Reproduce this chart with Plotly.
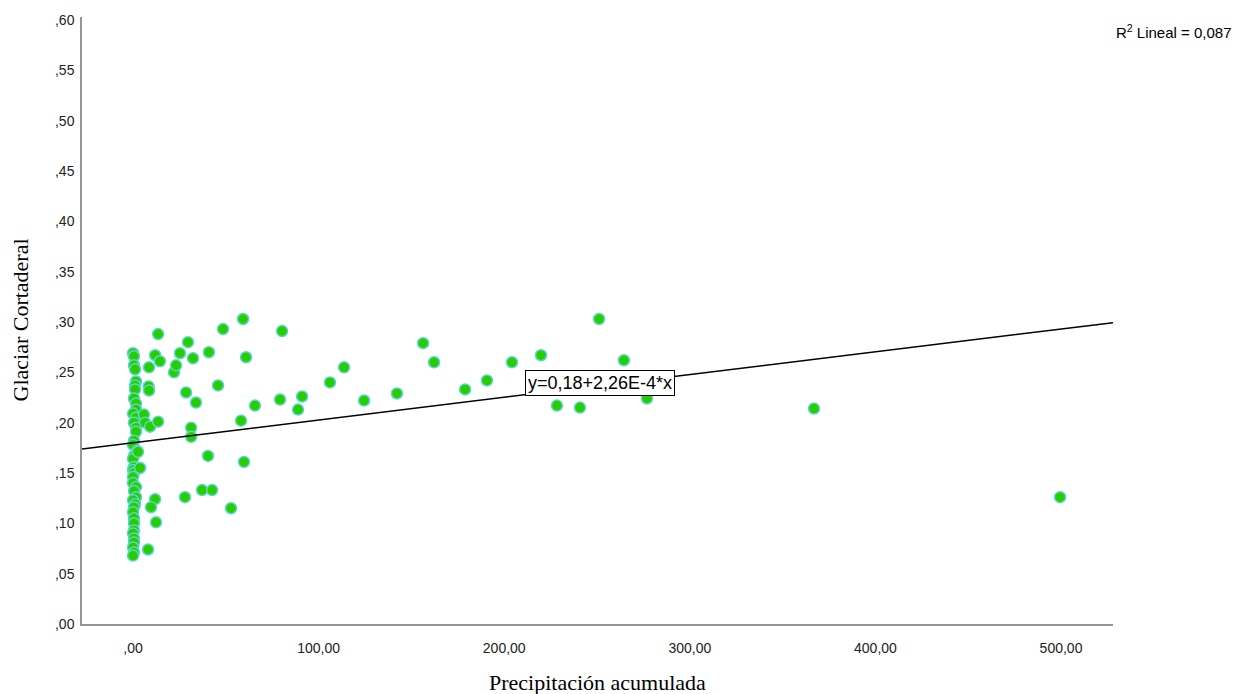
import plotly.graph_objects as go

# Precipitación acumulada (x) vs Glaciar Cortaderal (y)
precipitacion = [
    0.0, 0.5, 0.5, 1.1, 1.6, 1.1, 1.1, 0.5, 1.6, 1.6, 0.0, 1.6, 0.5, 1.6, 1.6,
    0.5, 0.0, 2.2, 0.5, 0.0, 0.5, 0.0, 0.5, 0.0, 0.0, 1.6, 0.5, 1.6, 0.0, 1.1,
    0.5, 0.0, 0.5, 0.5, 0.5, 0.0, 0.5, 0.5, 0.0, 0.5, 0.0,
    2.7, 3.8, 5.9, 6.5, 9.2, 13.5, 8.4, 8.6, 8.6, 11.9, 14.5, 13.5, 11.9, 9.7,
    12.4, 8.1, 22.1, 23.2, 25.3, 29.6, 32.3, 40.9, 48.5, 59.3, 60.9, 28.6, 45.8,
    33.9, 65.7, 58.2, 31.3, 31.3, 40.4, 59.8, 37.2, 42.6, 28.0, 52.8,
    79.2, 80.3, 91.1, 88.9, 106.1, 113.7, 124.5, 142.2, 156.3, 162.2, 178.9,
    190.7, 204.2, 219.8, 228.4, 240.8, 251.1, 264.5, 276.9, 366.9, 499.5,
]
glaciar = [
    0.269, 0.266, 0.257, 0.253, 0.241, 0.237, 0.233, 0.224, 0.219, 0.213, 0.209,
    0.205, 0.200, 0.195, 0.191, 0.182, 0.178, 0.172, 0.167, 0.164, 0.156, 0.153,
    0.150, 0.146, 0.140, 0.136, 0.132, 0.126, 0.123, 0.119, 0.116, 0.111, 0.105,
    0.100, 0.093, 0.090, 0.085, 0.081, 0.076, 0.071, 0.068,
    0.171, 0.155, 0.208, 0.200, 0.196, 0.201, 0.236, 0.232, 0.255, 0.267, 0.261,
    0.288, 0.124, 0.116, 0.101, 0.074, 0.250, 0.257, 0.269, 0.280, 0.264, 0.270,
    0.293, 0.303, 0.265, 0.230, 0.237, 0.220, 0.217, 0.202, 0.195, 0.186, 0.167,
    0.161, 0.133, 0.133, 0.126, 0.115,
    0.223, 0.291, 0.226, 0.213, 0.240, 0.255, 0.222, 0.229, 0.279, 0.260, 0.233,
    0.242, 0.260, 0.267, 0.217, 0.215, 0.303, 0.262, 0.224, 0.214, 0.126,
]

# Linear fit reported on the chart
intercepto = 0.18
pendiente = 2.26e-4
r2 = "0,087"

x_rango = [-27.5, 528]
y_rango = [0, 0.603]

y_ticks = [0.0, 0.05, 0.10, 0.15, 0.20, 0.25, 0.30, 0.35, 0.40, 0.45, 0.50, 0.55, 0.60]
y_ticktext = [",00", ",05", ",10", ",15", ",20", ",25", ",30", ",35", ",40", ",45", ",50", ",55", ",60"]
x_ticks = [0, 100, 200, 300, 400, 500]
x_ticktext = [",00", "100,00", "200,00", "300,00", "400,00", "500,00"]

fig = go.Figure()

fig.add_trace(go.Scatter(
    x=precipitacion, y=glaciar, mode="markers",
    marker=dict(size=11, color="rgb(40,205,0)",
                line=dict(color="rgb(90,215,205)", width=1.5)),
    showlegend=False, hoverinfo="x+y",
))

fit_x = list(x_rango)
fit_y = [intercepto + pendiente * v for v in fit_x]
fig.add_trace(go.Scatter(
    x=fit_x, y=fit_y, mode="lines",
    line=dict(color="black", width=1.5),
    showlegend=False, hoverinfo="skip",
))

# Equation label placed on the fitted line
eq_x = 251.6
fig.add_annotation(
    x=eq_x, y=intercepto + pendiente * eq_x, xref="x", yref="y",
    text="y=0,18+2,26E-4*x", showarrow=False,
    font=dict(family="Liberation Sans, Arial", size=18, color="black"),
    bgcolor="white", bordercolor="black", borderwidth=1, borderpad=2,
    yshift=3,
)

fig.add_annotation(
    x=1.0, y=1.0, xref="paper", yref="paper", xanchor="left", yanchor="top",
    xshift=1, yshift=-3,
    text="R<sup>2</sup> Lineal = " + r2, showarrow=False,
    font=dict(family="Liberation Sans, Arial", size=15, color="black"),
)

fig.add_annotation(
    x=0.5, y=0, xref="paper", yref="paper", yanchor="middle",
    yshift=-58, text="Precipitación acumulada", showarrow=False,
    font=dict(family="Liberation Serif, Times New Roman", size=22, color="black"),
)
fig.add_annotation(
    x=0, y=0.5, xref="paper", yref="paper", xanchor="center",
    xshift=-62, text="Glaciar Cortaderal", showarrow=False, textangle=-90,
    font=dict(family="Liberation Serif, Times New Roman", size=22, color="black"),
)

axis_font = dict(family="Liberation Sans, Arial", size=14, color="#222222")

fig.update_layout(
    width=1247, height=694,
    margin=dict(l=82, r=134, t=15, b=70),
    paper_bgcolor="white", plot_bgcolor="white",
    xaxis=dict(range=x_rango, tickvals=x_ticks, ticktext=x_ticktext,
               showgrid=False, zeroline=False, showline=True,
               linecolor="rgb(150,150,150)", linewidth=1.5, ticks="",
               tickfont=axis_font, ticklabelstandoff=10),
    yaxis=dict(range=y_rango, tickvals=y_ticks, ticktext=y_ticktext,
               showgrid=False, zeroline=False, showline=True,
               linecolor="rgb(150,150,150)", linewidth=1.5, ticks="",
               tickfont=axis_font, ticklabelstandoff=3),
)

fig.write_html("out.html")
